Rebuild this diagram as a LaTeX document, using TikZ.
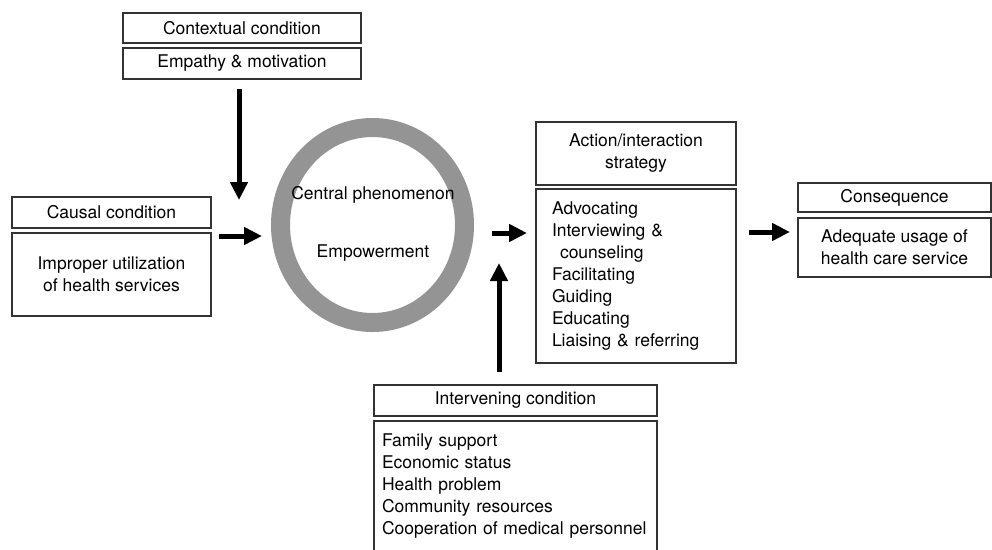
\documentclass[tikz,border=0pt]{standalone}
\usepackage{fontspec}
\setmainfont{TeX Gyre Heros}
\usetikzlibrary{arrows.meta}
\usetikzlibrary{shapes.geometric}

\tikzset{
  box/.style = {draw=black!80, line width=1.2pt, rectangle, inner sep=0pt,
                font=\fontsize{17.5}{22}\selectfont, align=center},
  listbox/.style = {box, align=left},
  label/.style = {inner sep=0pt, font=\fontsize{17.5}{22}\selectfont},
  bigarrow/.style = {line width=5pt, -{Triangle[width=17pt,length=18pt]}},
}

\begin{document}
\begin{tikzpicture}[x=1pt, y=-1pt]
		\clip (0,0) rectangle (992,549);
		\useasboundingbox (0,0) rectangle (992,549);
		% condition boxes
		\node[box, minimum width=238pt, minimum height=30pt] (ctxhead) at (242,28) {Contextual condition};
		\node[box, minimum width=238pt, minimum height=31pt] (ctxbody) at (242,63.5) {Empathy \& motivation};
		\node[box, minimum width=199pt, minimum height=31pt] (cauhead) at (111.5,212.5) {Causal condition};
		\node[box, minimum width=199pt, minimum height=83pt] (caubody) at (111.5,274.5) {Improper utilization\\of health services};
		\node[box, minimum width=200pt, minimum height=63pt] (acthead) at (636,153.5) {Action/interaction\\strategy};
		\node[listbox, minimum height=174pt, inner xsep=16pt, text width=168pt] (actbody) at (636,276)
			{Advocating\\Interviewing \&\\\hspace*{8pt}counseling\\Facilitating\\Guiding\\Educating\\Liaising \& referring};
		\node[box, minimum width=193pt, minimum height=29pt] (conhead) at (894.5,197.5) {Consequence};
		\node[box, minimum width=193pt, minimum height=59pt] (conbody) at (894.5,247.5) {Adequate usage of\\health care service};
		\node[box, minimum width=283pt, minimum height=31pt] (inthead) at (515.5,400.5) {Intervening condition};
		\node[listbox, minimum height=130pt, inner xsep=8pt, text width=267pt] (intbody) at (515.5,486)
			{Family support\\Economic status\\Health problem\\Community resources\\Cooperation of medical personnel};
		% central phenomenon
		\node[ellipse, draw=black!42, line width=19pt, inner sep=0pt,
			minimum width=184pt, minimum height=195pt] (phen) at (372.5,225) {};
		\node[label] (phentitle) at (373,195) {Central phenomenon};
		\node[label] (phenname) at (373,253) {Empowerment};
		% arrows
		\coordinate (ctxtip) at (239,200);
		\coordinate (phenin) at (262,236);
		\coordinate (actin) at (527,233);
		\coordinate (acttip) at (499,263);
		\coordinate (conin) at (790,232);
		\draw[bigarrow] ([yshift=-9pt]ctxbody.south -| ctxtip) -- (ctxtip);
		\draw[bigarrow] ([xshift=7pt]caubody.east |- phenin) -- (phenin);
		\draw[bigarrow] ([xshift=18pt]phen.east |- actin) -- (actin);
		\draw[bigarrow] ([yshift=12pt]inthead.north -| acttip) -- (acttip);
		\draw[bigarrow] ([xshift=12pt]actbody.east |- conin) -- (conin);
	\end{tikzpicture}
\end{document}
